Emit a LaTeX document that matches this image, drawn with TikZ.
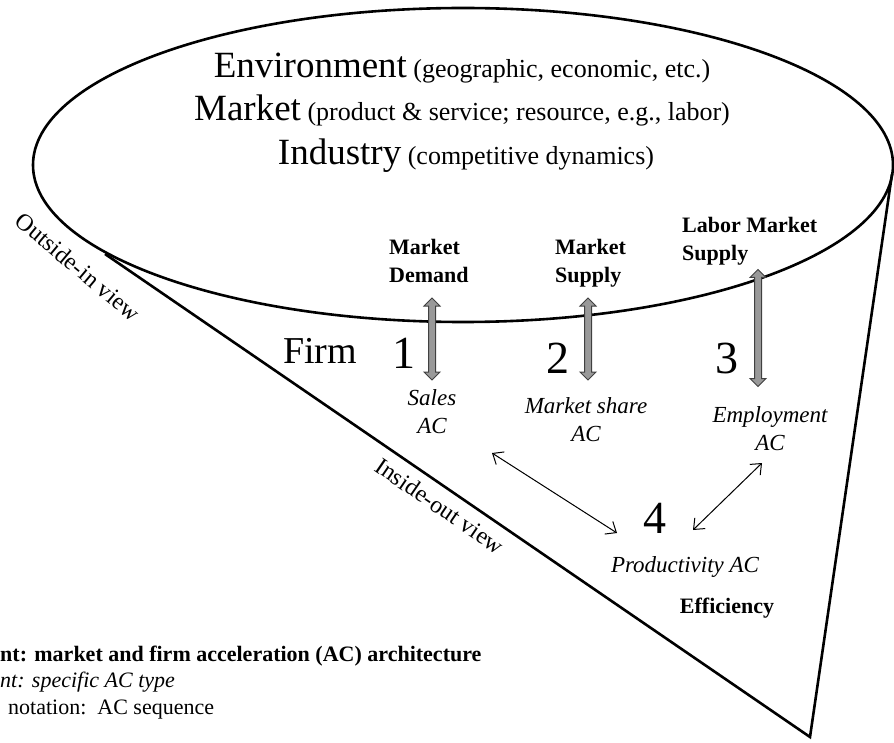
\documentclass[tikz,border=0pt]{standalone}
\usepackage{fontspec}
\setmainfont{Liberation Serif}
\usetikzlibrary{shapes.arrows,arrows.meta}

\newcommand{\bigwd}[1]{{\fontsize{37}{42}\selectfont #1}}
\newcommand{\smwd}[1]{{\fontsize{26}{30}\selectfont\ #1}}

\begin{document}
\begin{tikzpicture}[x=1pt,y=-1pt,>={Straight Barb[length=9pt,width=15pt]},
  every node/.style={inner sep=0pt},
  rim/.style={line width=2.6pt},
  ctxline/.style={anchor=base},
  mktlabel/.style={font=\fontsize{22}{28}\selectfont\bfseries,align=left,anchor=base west},
  actype/.style={font=\fontsize{23}{28}\selectfont\itshape,align=center,anchor=base},
  num/.style={font=\fontsize{46}{50}\selectfont,anchor=base},
  view/.style={font=\fontsize{24}{26}\selectfont},
  note/.style={font=\fontsize{22}{26}\selectfont,anchor=base west},
  link/.style={<->,line width=1pt},
  flow/.style={double arrow,draw=black!75,fill=black!40,line width=1pt,rotate=90,
    inner sep=3pt,double arrow head extend=4.5pt,double arrow head indent=0pt,minimum height=#1}]
\useasboundingbox (0,0) rectangle (894,743);

% the cone
\draw[rim] (463,165) ellipse [x radius=430, y radius=157];
\coordinate (ltan) at (105,254);
\coordinate (rtan) at (892,174);
\coordinate (apex) at (810,737);
\draw[rim] (ltan) -- (apex) -- (rtan);
\path (ltan) -- node[view,sloped,below=10pt,pos=0.49] (inout) {Inside-out view} (apex);
\node[view,rotate=-40] (outin) at (78,267) {Outside-in view};

% context
\node[ctxline] (env) at (462,78) {\bigwd{Environment}\smwd{(geographic, economic, etc.)}};
\node[ctxline] (mkt) at (462,121) {\bigwd{Market}\smwd{(product \& service; resource, e.g., labor)}};
\node[ctxline] (ind) at (466,165) {\bigwd{Industry}\smwd{(competitive dynamics)}};

\node[mktlabel] (demand) at (389,283) {Market\\Demand};
\node[mktlabel] (supply) at (555,283) {Market\\Supply};
\node[mktlabel] (labor) at (682,261) {Labor Market\\Supply};

\node[flow=82pt] (arr1) at (432,339) {};
\node[flow=82pt] (arr2) at (588,339) {};
\node[flow=117pt] (arr3) at (758,328) {};

% firm
\node[font=\fontsize{38}{40}\selectfont,anchor=base] (firm) at (320,363) {Firm};
\node[num] (n1) at (404,368) {1};
\node[num] (n2) at (558,373) {2};
\node[num] (n3) at (727,373) {3};
\node[num] (n4) at (655,533) {4};

\node[actype] (sales) at (432,433) {Sales\\AC};
\node[actype] (share) at (586,441) {Market share\\AC};
\node[actype] (employ) at (770,450) {Employment\\AC};
\node[actype] (prod) at (685,572) {Productivity AC};
\node[font=\fontsize{22}{26}\selectfont\bfseries,anchor=base] (eff) at (727,613) {Efficiency};

\coordinate (s1) at (492,453);
\coordinate (s2) at (617,533);
\coordinate (e1) at (762,463);
\coordinate (e2) at (693,530);
\draw[link] (s1) -- (s2);
\draw[link] (e1) -- (e2);

% legend (cut off)
\node[note,font=\fontsize{22}{26}\selectfont\bfseries] (leg1) at (0,661) {nt: market and firm acceleration (AC) architecture};
\node[note,font=\fontsize{22}{26}\selectfont\itshape] (leg2) at (0,687) {nt: specific AC type};
\node[note] (leg3) at (8,714) {notation:\ \ AC sequence};
\end{tikzpicture}
\end{document}
